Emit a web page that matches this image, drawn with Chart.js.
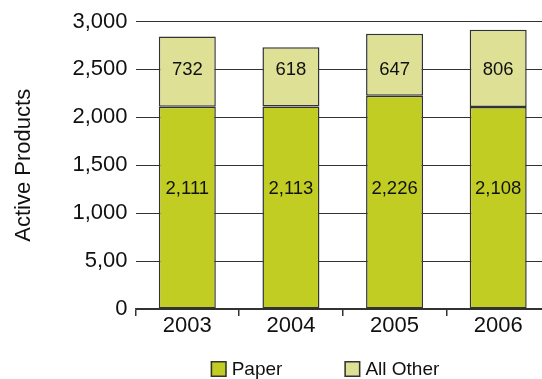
<!DOCTYPE html>
<html><head><meta charset="utf-8">
<script src="https://cdn.jsdelivr.net/npm/chart.js@4.4.1/dist/chart.umd.min.js"></script>
<style>
html,body{margin:0;padding:0;background:#fff;overflow:hidden;width:542px;height:379px;}
#wrap{width:542px;height:379px;overflow:hidden;position:relative;}
canvas{display:block;}
</style></head><body>
<div id="wrap"><canvas id="c" width="550" height="379" style="width:550px;height:379px"></canvas></div>
<script>
const categories = ['2003', '2004', '2005', '2006'];
const paperValues = [2111, 2113, 2226, 2108];
const otherValues = [732, 618, 647, 806];
const seriesNames = ['Paper', 'All Other'];
const tickValues = [0, 500, 1000, 1500, 2000, 2500, 3000];
const tickLabels = ['0', '5,00', '1,000', '1,500', '2,000', '2,500', '3,000'];
const axisTitle = 'Active Products';

const FONT = "'Liberation Sans', Arial, sans-serif";
const INK = '#111';
const LINE = '#333';
// value rows (in axis units) where the in-bar labels sit
const labelRows = [1250, 2490];

const valueLabelPlugin = {
  id: 'valueLabels',
  afterDatasetsDraw(chart) {
    const ctx = chart.ctx, y = chart.scales.y;
    ctx.save();
    ctx.font = '18.5px ' + FONT;
    ctx.fillStyle = INK;
    ctx.textAlign = 'center';
    ctx.textBaseline = 'middle';
    chart.data.datasets.forEach((ds, di) => {
      const meta = chart.getDatasetMeta(di);
      meta.data.forEach((el, i) => {
        ctx.fillText(ds.data[i].toLocaleString('en-US'), el.x, y.getPixelForValue(labelRows[di]));
      });
    });
    ctx.restore();
  }
};

const legendPlugin = {
  id: 'bottomLegend',
  afterDraw(chart, args, opts) {
    const ctx = chart.ctx;
    ctx.save();
    ctx.font = opts.fontSize + 'px ' + FONT;
    const items = chart.data.datasets.map(ds => ({
      text: ds.label, fill: ds.backgroundColor,
      w: opts.box + opts.gap + ctx.measureText(ds.label).width
    }));
    const total = items.reduce((s, it) => s + it.w, 0) + opts.itemGap * (items.length - 1);
    let x = opts.centerX - total / 2;
    const top = opts.boxTop;
    items.forEach(it => {
      ctx.fillStyle = it.fill;
      ctx.fillRect(x, top, opts.box, opts.box);
      ctx.strokeStyle = LINE;
      ctx.lineWidth = 1.5;
      ctx.strokeRect(x + 0.75, top + 0.75, opts.box - 1.5, opts.box - 1.5);
      ctx.fillStyle = INK;
      ctx.textAlign = 'left';
      ctx.textBaseline = 'middle';
      ctx.fillText(it.text, x + opts.box + opts.gap, top + opts.box / 2 + 0.5);
      x += it.w + opts.itemGap;
    });
    ctx.restore();
  }
};

new Chart(document.getElementById('c'), {
  type: 'bar',
  data: {
    labels: categories,
    datasets: [
      { label: seriesNames[0], data: paperValues, backgroundColor: '#c2cd23', borderColor: '#333', borderWidth: 1.5, borderSkipped: false },
      { label: seriesNames[1], data: otherValues, backgroundColor: '#dde095', borderColor: '#333', borderWidth: 1.5, borderSkipped: false }
    ]
  },
  options: {
    responsive: false,
    animation: false,
    devicePixelRatio: 1,
    layout: { padding: { top: 21.5, left: 0, right: 0, bottom: 0 } },
    datasets: { bar: { barPercentage: 0.55, categoryPercentage: 1.0 } },
    plugins: {
      legend: { display: false },
      tooltip: { enabled: false },
      bottomLegend: { centerX: 325, boxTop: 361, box: 16, gap: 5, itemGap: 62, fontSize: 19 }
    },
    scales: {
      x: {
        stacked: true,
        grid: { display: true, drawOnChartArea: false, drawTicks: true, tickLength: 7, color: LINE, lineWidth: 1.5, offset: true },
        border: { display: true, color: LINE, width: 1.5 },
        ticks: { padding: -1, color: INK, font: { family: FONT, size: 22, lineHeight: 1 } },
        afterFit(scale) { scale.height = 70; }
      },
      y: {
        stacked: true,
        min: 0,
        max: 3000,
        afterBuildTicks(scale) { scale.ticks = tickValues.map(v => ({ value: v })); },
        ticks: {
          padding: 8, color: INK, font: { family: FONT, size: 22, lineHeight: 1 },
          callback: (v) => tickLabels[tickValues.indexOf(v)]
        },
        grid: { color: LINE, lineWidth: 1, drawTicks: false },
        border: { display: false },
        title: { display: true, text: axisTitle, color: INK, font: { family: FONT, size: 22, lineHeight: 1.2 }, padding: { top: 11, bottom: 0 } },
        afterFit(scale) { scale.width = 135.5; }
      }
    }
  },
  plugins: [valueLabelPlugin, legendPlugin]
});
</script>
</body></html>
